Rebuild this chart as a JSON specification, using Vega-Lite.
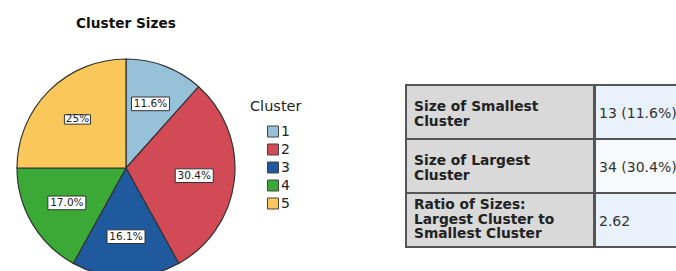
{
  "$schema": "https://vega.github.io/schema/vega-lite/v6.json",
  "background": "white",
  "padding": {"left": 14, "top": 16, "right": 0, "bottom": 0},
  "config": {"view": {"stroke": null}, "font": "DejaVu Sans"},
  "spacing": 167,
  "datasets": {
    "clusters": [
      {"cluster": "1", "count": 13, "pct": "11.6%"},
      {"cluster": "2", "count": 34, "pct": "30.4%"},
      {"cluster": "3", "count": 18, "pct": "16.1%"},
      {"cluster": "4", "count": 19, "pct": "17.0%"},
      {"cluster": "5", "count": 28, "pct": "25%"}
    ],
    "table": [
      {"row": "r1", "col": "label", "text": "Size of Smallest\nCluster"},
      {"row": "r2", "col": "label", "text": "Size of Largest\nCluster"},
      {"row": "r3", "col": "label", "text": "Ratio of Sizes:\nLargest Cluster to\nSmallest Cluster"},
      {"row": "r1", "col": "value", "text": "13 (11.6%)"},
      {"row": "r2", "col": "value", "text": "34 (30.4%)"},
      {"row": "r3", "col": "value", "text": "2.62"}
    ]
  },
  "hconcat": [
    {
      "width": 218,
      "height": 218,
      "title": {"text": "Cluster Sizes", "fontSize": 13.7, "font": "DejaVu Sans", "fontWeight": "bold", "color": "#111", "offset": 26, "anchor": "middle"},
      "data": {"name": "clusters"},
      "layer": [
        {
          "mark": {"type": "arc", "stroke": "#333", "strokeWidth": 1.2},
          "encoding": {
            "theta": {"field": "count", "type": "quantitative", "stack": true},
            "order": {"field": "cluster", "sort": "ascending"},
            "color": {
              "field": "cluster", "type": "nominal",
              "scale": {"domain": ["1", "2", "3", "4", "5"], "range": ["#97c1d9", "#d14a55", "#1f5a9e", "#3ba935", "#f9c75a"]},
              "legend": {
                "title": "Cluster", "orient": "none", "legendX": 233, "legendY": 41,
                "symbolType": "square", "symbolSize": 121, "symbolStrokeColor": "#444", "symbolStrokeWidth": 1,
                "symbolOffset": 16,
                "labelFontSize": 14, "labelFont": "DejaVu Sans", "labelColor": "#222", "labelOffset": 1,
                "titleFont": "DejaVu Sans", "titleFontSize": 14.5, "titleFontWeight": "normal", "titleColor": "#222",
                "titlePadding": 10, "rowPadding": 2
              }
            }
          }
        },
        {
          "transform": [
            {"window": [{"op": "sum", "field": "count", "as": "cum"}], "sort": [{"field": "cluster"}], "frame": [null, 0]},
            {"joinaggregate": [{"op": "sum", "field": "count", "as": "total"}]},
            {"calculate": "2*PI*(datum.cum - datum.count/2)/datum.total", "as": "mid"},
            {"calculate": "0.63*sin(datum.mid)", "as": "lx"},
            {"calculate": "0.63*cos(datum.mid)", "as": "ly"}
          ],
          "encoding": {
            "x": {"field": "lx", "type": "quantitative", "scale": {"domain": [-1, 1], "nice": false, "zero": false}, "axis": null},
            "y": {"field": "ly", "type": "quantitative", "scale": {"domain": [-1, 1], "nice": false, "zero": false}, "axis": null}
          },
          "layer": [
            {
              "mark": {"type": "point", "shape": "M-1,-0.36H1V0.36H-1Z", "filled": true, "fill": "white", "stroke": "#333", "strokeWidth": 1, "opacity": 1},
              "encoding": {
                "size": {"condition": {"test": "length(datum.pct) < 4", "value": 680}, "value": 1444}
              }
            },
            {
              "mark": {"type": "text", "fontSize": 10.5, "font": "DejaVu Sans", "color": "#222", "baseline": "middle", "align": "center"},
              "encoding": {"text": {"field": "pct", "type": "nominal"}}
            }
          ]
        }
      ]
    },
    {
      "spacing": -2,
      "hconcat": [
        {
          "width": 188,
          "height": 188,
          "data": {"name": "table"},
          "transform": [{"filter": "datum.col === 'label'"}],
          "encoding": {
            "y": {"field": "row", "type": "nominal", "axis": null, "scale": {"domain": ["r1", "r2", "r3"], "range": [26, 188], "paddingInner": 0, "paddingOuter": 0}},
            "x": {"field": "col", "type": "nominal", "axis": null, "scale": {"paddingInner": 0, "paddingOuter": 0}}
          },
          "layer": [
            {"mark": {"type": "rect", "fill": "#d9d9d9", "stroke": "#555", "strokeWidth": 2}},
            {
              "transform": [{"filter": "datum.row !== 'r3'"}],
              "mark": {"type": "text", "align": "left", "baseline": "middle", "lineBreak": "\n", "lineHeight": 14.5, "dx": 8, "dy": -5, "fontSize": 13.8, "fontWeight": "bold", "font": "DejaVu Sans", "color": "#222"},
              "encoding": {
                "x": {"field": "col", "type": "nominal", "bandPosition": 0, "axis": null},
                "text": {"field": "text", "type": "nominal"}
              }
            },
            {
              "transform": [{"filter": "datum.row === 'r3'"}],
              "mark": {"type": "text", "align": "left", "baseline": "middle", "lineBreak": "\n", "lineHeight": 14.5, "dx": 8, "dy": -15, "fontSize": 13.8, "fontWeight": "bold", "font": "DejaVu Sans", "color": "#222"},
              "encoding": {
                "x": {"field": "col", "type": "nominal", "bandPosition": 0, "axis": null},
                "text": {"field": "text", "type": "nominal"}
              }
            }
          ]
        },
        {
          "width": 86,
          "height": 188,
          "data": {"name": "table"},
          "transform": [{"filter": "datum.col === 'value'"}],
          "encoding": {
            "y": {"field": "row", "type": "nominal", "axis": null, "scale": {"domain": ["r1", "r2", "r3"], "range": [26, 188], "paddingInner": 0, "paddingOuter": 0}},
            "x": {"field": "col", "type": "nominal", "axis": null, "scale": {"paddingInner": 0, "paddingOuter": 0}}
          },
          "layer": [
            {"mark": {"type": "rect", "stroke": "#555", "strokeWidth": 2},
             "encoding": {"fill": {"condition": {"test": "datum.row === 'r2'", "value": "#f7fafd"}, "value": "#e9f2fa"}}},
            {
              "mark": {"type": "text", "align": "left", "baseline": "middle", "dx": 4, "dy": 2, "fontSize": 14, "font": "DejaVu Sans", "color": "#333"},
              "encoding": {
                "x": {"field": "col", "type": "nominal", "bandPosition": 0, "axis": null},
                "text": {"field": "text", "type": "nominal"}
              }
            }
          ]
        }
      ]
    }
  ]
}
